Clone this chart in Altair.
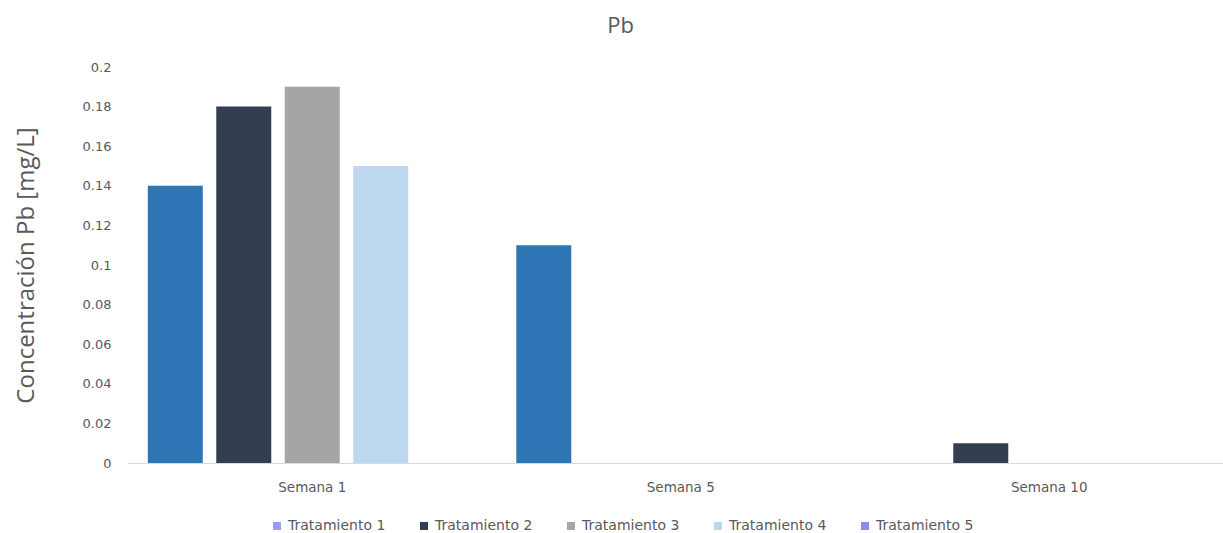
import altair as alt
import pandas as pd

# Pb concentration (mg/L) per sampling week and treatment
weeks = ["Semana 1", "Semana 5", "Semana 10"]
treatments = ["Tratamiento 1", "Tratamiento 2", "Tratamiento 3", "Tratamiento 4", "Tratamiento 5"]
t1 = [0.14, 0.11, 0.0]
t2 = [0.18, 0.0, 0.01]
t3 = [0.19, 0.0, 0.0]
t4 = [0.15, 0.0, 0.0]
t5 = [0.0, 0.0, 0.0]
y_ticks = [0, 0.02, 0.04, 0.06, 0.08, 0.1, 0.12, 0.14, 0.16, 0.18, 0.2]

bar_colors = ["#2E75B6", "#333F50", "#A5A5A5", "#BDD7EE", "#5B9BD5"]
legend_colors = ["#9B9BF2", "#333F50", "#A5A5A5", "#BDD7EE", "#8C8CF0"]

series = [t1, t2, t3, t4, t5]
rows = []
for name, vals in zip(treatments, series):
    for w, v in zip(weeks, vals):
        rows.append({"semana": w, "trat": name, "valor": v, "base": 0.0})
df = pd.DataFrame(rows)

GRAY = "#595959"
LABEL_FONT = "DejaVu Sans"
TITLE_FONT = "Open Sans"

x_enc = alt.X(
    "semana:N",
    sort=weeks,
    scale=alt.Scale(domain=weeks, range=[0, 1105.5], paddingInner=0, paddingOuter=0),
    axis=alt.Axis(
        title=None, labelAngle=0, ticks=False, tickSize=0, labelPadding=17,
        domainColor="#D9D9D9", domainWidth=1, grid=False,
        labelFont=LABEL_FONT, labelFontSize=13.5, labelColor=GRAY,
    ),
)
xoff_enc = alt.XOffset(
    "trat:N",
    sort=treatments,
    scale=alt.Scale(domain=treatments, paddingInner=0.197, paddingOuter=0.289),
)
y_scale = alt.Scale(domain=[0, 0.2], nice=False, zero=True)
y_axis = alt.Axis(
    values=y_ticks, tickCount=11, format="~g", labelOverlap=False,
    title="Concentración Pb [mg/L]", titleFont=TITLE_FONT, titleFontSize=24,
    titleFontWeight="normal", titleColor=GRAY, titleAngle=270,
    titleX=-102, titleY=198, titleAlign="center", titleBaseline="middle",
    labelFont=LABEL_FONT, labelFontSize=13, labelColor=GRAY, labelPadding=17,
    ticks=False, tickSize=0, domain=False, grid=False,
)

bars = alt.Chart(df).mark_bar().encode(
    x=x_enc,
    xOffset=xoff_enc,
    y=alt.Y("valor:Q", scale=y_scale, axis=y_axis),
    color=alt.Color("trat:N", sort=treatments,
                    scale=alt.Scale(domain=treatments, range=bar_colors), legend=None),
)

# zero-height bars that only carry the legend swatches
legend_layer = alt.Chart(df).mark_bar().encode(
    x=x_enc,
    xOffset=xoff_enc,
    y=alt.Y("base:Q", scale=y_scale, axis=y_axis),
    color=alt.Color(
        "trat:N", sort=treatments,
        scale=alt.Scale(domain=treatments, range=legend_colors),
        legend=alt.Legend(
            title=None, orient="none", direction="horizontal",
            legendX=142, legendY=452,
            symbolType="square", symbolSize=64, symbolStrokeWidth=0,
            labelFont=LABEL_FONT, labelFontSize=14, labelColor=GRAY,
            labelOffset=4, columnPadding=31, labelLimit=200,
        ),
    ),
)

chart = (
    alt.layer(bars, legend_layer)
    .resolve_scale(color="independent")
    .properties(
        width=1095,
        height=396,
        padding={"left": 128, "top": 67, "right": 0, "bottom": 70},
        autosize=alt.AutoSizeParams(type="none"),
        title=alt.TitleParams(
            "Pb", font=TITLE_FONT, fontSize=22, fontWeight="normal", color=GRAY,
            anchor="middle", frame="group", dx=-55, offset=6, baseline="alphabetic",
        ),
        background="white",
    )
    .configure_view(stroke=None)
)

chart.save("out.html", embed_options={"renderer": "svg", "actions": False})
